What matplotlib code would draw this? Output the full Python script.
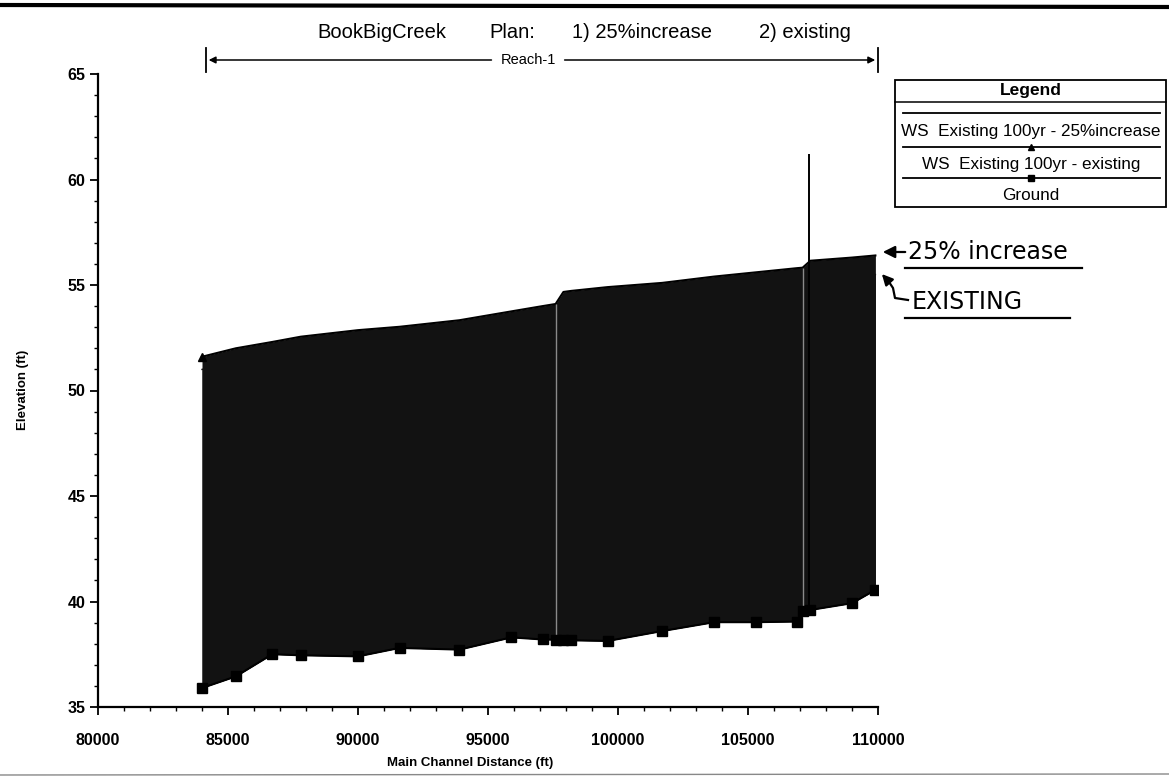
import matplotlib
matplotlib.use("Agg")
import matplotlib.pyplot as plt
from matplotlib.lines import Line2D
from matplotlib.patches import Rectangle, FancyArrowPatch
from matplotlib.ticker import MultipleLocator

plt.rcParams['font.family'] = ['Liberation Sans', 'DejaVu Sans']

# ---------------- data ----------------
stations = [84000, 85300, 86700, 87800, 90000, 91600, 93900, 95900, 97100, 97600,
            97900, 98200, 99600, 101700, 103700, 105300, 106900, 107100, 107400,
            109000, 109900]
ground = [35.9, 36.45, 37.5, 37.45, 37.4, 37.8, 37.72, 38.3, 38.2, 38.19,
          38.19, 38.16, 38.13, 38.6, 39.02, 39.02, 39.05, 39.55, 39.6,
          39.92, 40.55]
ws_25 = [51.6, 52.0, 52.3, 52.55, 52.86, 53.02, 53.33, 53.75, 54.0, 54.1,
         54.67, 54.72, 54.9, 55.1, 55.4, 55.6, 55.8, 55.82, 56.15,
         56.3, 56.4]
ws_existing = [51.0, 51.4, 51.7, 51.95, 52.25, 52.4, 52.7, 53.1, 53.35, 53.45,
               53.95, 54.0, 54.15, 54.35, 54.6, 54.8, 55.0, 55.02, 55.3,
               55.42, 55.5]
bridge_station = 107350
bridge_top = 61.2
xs_gaps = [97600, 107100]

title_parts = ["BookBigCreek", "Plan:", "1) 25%increase", "2) existing"]
legend_entries = ["WS  Existing 100yr - 25%increase",
                  "WS  Existing 100yr - existing",
                  "Ground"]
x_ticks = [80000, 85000, 90000, 95000, 100000, 105000, 110000]
y_ticks = [35, 40, 45, 50, 55, 60, 65]

# ---------------- figure ----------------
W, H = 1169, 778
fig = plt.figure(figsize=(W / 100, H / 100), dpi=100)

def fx(px):
    return px / W

def fy(py):
    return 1 - py / H

ax = fig.add_axes([fx(98), fy(707), fx(878) - fx(98), fy(74) - fy(707)])
fill_col = '#121212'

ax.fill_between(stations, ground, ws_25, color=fill_col, lw=0, zorder=2)
ax.fill_between(stations, ground, ws_existing, color=fill_col, lw=0, zorder=2)
ax.plot(stations, ws_existing, color=fill_col, lw=1.0, zorder=3)
ax.plot(stations, ws_25, color='black', lw=1.5, zorder=3)
ax.plot(stations[:1], ws_25[:1], marker='^', color='black', ms=6, ls='none', zorder=4)
ax.plot(stations, ground, color='black', lw=1.5, marker='s', ms=7, zorder=4)

# cross-section gaps (light lines inside the fill)
for s in xs_gaps:
    i = stations.index(s)
    ax.vlines(s, ground[i], ws_25[i], color='#8a8a8a', lw=1.0, zorder=3)
# bridge line
ax.vlines(bridge_station, 39.6, bridge_top, color='black', lw=1.4, zorder=5)

ax.set_xlim(x_ticks[0], x_ticks[-1])
ax.set_ylim(y_ticks[0], y_ticks[-1])
ax.set_xticks(x_ticks)
ax.set_yticks(y_ticks)
ax.set_xticklabels([str(v) for v in x_ticks])
ax.set_yticklabels([str(v) for v in y_ticks])
ax.xaxis.set_minor_locator(MultipleLocator(1000))
ax.yaxis.set_minor_locator(MultipleLocator(1))
for sp in ['top', 'right']:
    ax.spines[sp].set_visible(False)
for sp in ['left', 'bottom']:
    ax.spines[sp].set_linewidth(1.6)
ax.tick_params(axis='both', which='major', direction='out', length=6, width=1.3,
               labelsize=11.5)
ax.tick_params(axis='both', which='minor', direction='out', length=3, width=1.0)
ax.tick_params(axis='x', which='major', pad=13)
ax.tick_params(axis='y', which='major', pad=3)
for lab in ax.get_xticklabels() + ax.get_yticklabels():
    lab.set_fontweight('bold')

ax.set_xlabel("Main Channel Distance (ft)", fontsize=9.5, fontweight='bold')
ax.xaxis.set_label_coords((470 - 98) / 780, -(757 - 707) / 633)
ax.set_ylabel("Elevation (ft)", fontsize=9.5, fontweight='bold')
ax.yaxis.set_label_coords(-(98 - 29) / 780, (707 - 390) / 633)

# ---------------- title ----------------
title_x = [382, 512, 642, 805]
for t, x in zip(title_parts, title_x):
    fig.text(fx(x), fy(33), t, ha='center', va='center', fontsize=14.5)

# ---------------- reach marker ----------------
tr = ax.get_xaxis_transform()
y_reach = 1 + (74 - 60) / (707 - 74)
y_lo = 1 + (74 - 72) / (707 - 74)
y_hi = 1 + (74 - 48) / (707 - 74)
r0, r1 = stations[0] + 150, stations[-1] + 100
for r in (r0, r1):
    ax.plot([r, r], [y_lo, y_hi], transform=tr, color='black', lw=1.3, clip_on=False)
rc = 96540
ax.text(rc, y_reach, "Reach-1", transform=tr, ha='center', va='center', fontsize=10.5)
ax.annotate("", xy=(r0, y_reach), xytext=(rc - 1300, y_reach), xycoords=tr, textcoords=tr,
            arrowprops=dict(arrowstyle='-|>', color='black', lw=1.1, mutation_scale=10),
            annotation_clip=False)
ax.annotate("", xy=(r1, y_reach), xytext=(rc + 1300, y_reach), xycoords=tr, textcoords=tr,
            arrowprops=dict(arrowstyle='-|>', color='black', lw=1.1, mutation_scale=10),
            annotation_clip=False)

# ---------------- legend box ----------------
fig.patches.append(Rectangle((fx(895), fy(207)), fx(1166) - fx(895), fy(80) - fy(207),
                             transform=fig.transFigure, fill=False, ec='black', lw=1.3))
fig.text(fx(1031), fy(91), "Legend", ha='center', va='center', fontsize=12.5, fontweight='bold')
fig.lines.append(Line2D([fx(895), fx(1166)], [fy(101.7)] * 2, transform=fig.transFigure,
                        color='black', lw=1.1))
for yy, mk in [(112.7, None), (147.3, '^'), (177.7, 's')]:
    fig.lines.append(Line2D([fx(903), fx(1160)], [fy(yy)] * 2, transform=fig.transFigure,
                            color='black', lw=1.3))
    if mk:
        fig.lines.append(Line2D([fx(1031)], [fy(yy)], transform=fig.transFigure,
                                marker=mk, color='black', ms=5))
for t, yy in zip(legend_entries, [131.7, 164.3, 195]):
    fig.text(fx(1031), fy(yy), t, ha='center', va='center', fontsize=12.3)

# ---------------- handwritten notes ----------------
hand = dict(family=['DejaVu Sans'], color='black')
fig.text(fx(908), fy(252), "25% increase", ha='left', va='center', fontsize=17, **hand)
fig.lines.append(Line2D([fx(905), fx(1082)], [fy(268)] * 2, transform=fig.transFigure,
                        color='black', lw=1.6))
fig.patches.append(FancyArrowPatch(
    (fx(908), fy(252)), (fx(880), fy(252)), transform=fig.transFigure,
    arrowstyle='-|>', mutation_scale=18, color='black', lw=1.6))

fig.text(fx(912), fy(302), "EXISTING", ha='left', va='center', fontsize=17, **hand)
fig.lines.append(Line2D([fx(905), fx(1070)], [fy(318)] * 2, transform=fig.transFigure,
                        color='black', lw=1.6))
fig.lines.append(Line2D([fx(908), fx(895), fx(893), fx(889)],
                        [fy(300), fy(298), fy(288), fy(282)], transform=fig.transFigure,
                        color='black', lw=1.6))
fig.patches.append(FancyArrowPatch(
    (fx(890), fy(283)), (fx(880), fy(272)), transform=fig.transFigure,
    arrowstyle='-|>', mutation_scale=16, color='black', lw=1.6))

# page edges from the scan
fig.lines.append(Line2D([0, 1], [fy(5), fy(7)], transform=fig.transFigure, color='black', lw=3))
fig.lines.append(Line2D([0, 1], [fy(775), fy(774)], transform=fig.transFigure,
                        color='#888888', lw=1))

fig.savefig("out.png", dpi=100)
